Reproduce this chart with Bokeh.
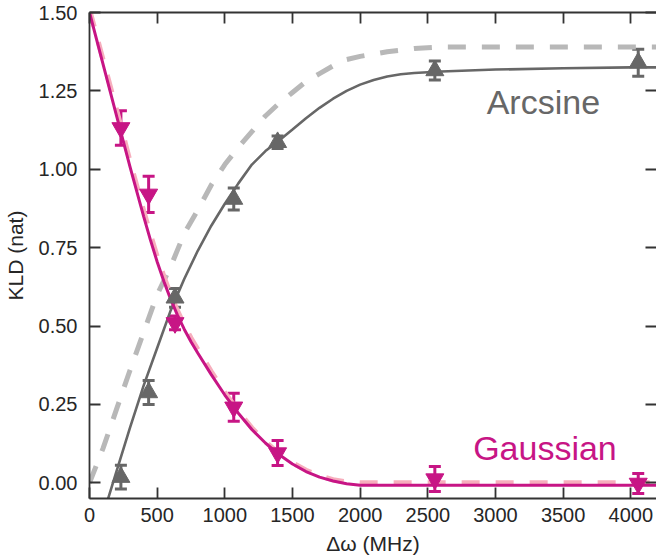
import numpy as np
from bokeh.plotting import figure
from bokeh.models import (ColumnDataSource, Whisker, TeeHead, LinearAxis, Range1d,
                          FixedTicker, NumeralTickFormatter, Label)
from bokeh.embed import file_html
from bokeh.resources import INLINE

# ---- data ----
x_pts = [232, 437, 632, 1066, 1390, 2552, 4055]
arcsine_y = [0.018, 0.288, 0.59, 0.905, 1.086, 1.315, 1.34]
arcsine_err = [0.038, 0.038, 0.03, 0.035, 0.02, 0.03, 0.043]
gauss_y = [1.132, 0.92, 0.51, 0.241, 0.095, 0.012, -0.002]
gauss_err = [0.055, 0.058, 0.022, 0.045, 0.04, 0.04, 0.032]

gauss_fit_x = [0, 100, 200, 300, 400, 450, 500, 550, 600, 650, 700, 750, 800, 900,
               1000, 1100, 1200, 1300, 1400, 1500, 1600, 1700, 1800, 1900, 2000,
               2500, 3000, 3500, 4000, 4200]
gauss_fit_y = [1.50, 1.335, 1.17, 1.007, 0.85, 0.775, 0.705, 0.642, 0.585, 0.535,
               0.49, 0.45, 0.414, 0.345, 0.28, 0.222, 0.17, 0.127, 0.09, 0.06,
               0.036, 0.018, 0.006, -0.003, -0.008, -0.008, -0.008, -0.008,
               -0.008, -0.008]

gauss_ref_x = [0, 100, 200, 300, 400, 450, 500, 550, 600, 650, 700, 750, 800, 900,
               1000, 1100, 1200, 1300, 1400, 1500, 1600, 1700, 1800, 1900, 2000,
               2500, 3000, 3500, 4000, 4200]
gauss_ref_y = [1.51, 1.35, 1.19, 1.025, 0.868, 0.793, 0.722, 0.658, 0.6, 0.549,
               0.503, 0.462, 0.426, 0.355, 0.288, 0.228, 0.175, 0.131, 0.094, 0.064,
               0.04, 0.022, 0.01, 0.003, 0.0, 0.0, 0.0, 0.0, 0.0, 0.0]

arc_fit_x = [120, 200, 300, 400, 500, 600, 700, 800, 900, 1000, 1100, 1200, 1300,
             1390, 1500, 1600, 1700, 1800, 1900, 2000, 2100, 2200, 2300, 2400, 2600,
             3000, 3500, 4000, 4200]
arc_fit_y = [-0.075, 0.037, 0.177, 0.31, 0.43, 0.55, 0.65, 0.74, 0.82, 0.89, 0.955,
             1.015, 1.058, 1.088, 1.127, 1.163, 1.196, 1.225, 1.25, 1.27, 1.285,
             1.296, 1.303, 1.307, 1.312, 1.318, 1.322, 1.325, 1.325]

arc_ref_x = [0, 100, 200, 300, 400, 500, 600, 700, 800, 900, 1000, 1100, 1200, 1300,
             1400, 1500, 1600, 1700, 1800, 1900, 2000, 2200, 2400, 2600, 3000, 3500,
             4000, 4200]
arc_ref_y = [0.0, 0.11, 0.235, 0.36, 0.48, 0.60, 0.69, 0.795, 0.87, 0.95, 1.015,
             1.07, 1.12, 1.17, 1.21, 1.245, 1.28, 1.305, 1.33, 1.35, 1.36, 1.375,
             1.385, 1.39, 1.39, 1.39, 1.39, 1.39]

y_ticks = [0.0, 0.25, 0.5, 0.75, 1.0, 1.25, 1.5]
x_ticks = [0, 500, 1000, 1500, 2000, 2500, 3000, 3500, 4000]

MAGENTA = "#c71585"
GRAY = "#676767"
PINK = "#f7aebd"
LGRAY = "#b8b8b8"
AX = "#333333"
FONT = "Liberation Sans"

p = figure(width=656, height=560, output_backend="svg", toolbar_location=None,
           x_range=Range1d(0, 4190), y_range=Range1d(-0.05, 1.5),
           min_border_left=88, min_border_right=0, min_border_top=12, min_border_bottom=62,
           outline_line_color=None)
p.grid.visible = False
p.background_fill_color = "white"

# curves
p.line(arc_ref_x, arc_ref_y, line_color=LGRAY, line_width=5, line_dash="18 16")
p.line(gauss_ref_x, gauss_ref_y, line_color=PINK, line_width=5, line_dash="18 16")
p.line(arc_fit_x, arc_fit_y, line_color=GRAY, line_width=2.6)
p.line(gauss_fit_x, gauss_fit_y, line_color=MAGENTA, line_width=3)

# error bars
def add_err(xs, ys, es, color):
    src = ColumnDataSource(dict(x=xs, upper=[y + e for y, e in zip(ys, es)],
                                lower=[y - e for y, e in zip(ys, es)]))
    w = Whisker(base="x", upper="upper", lower="lower", source=src,
                line_color=color, line_width=3,
                upper_head=TeeHead(size=12, line_color=color, line_width=3),
                lower_head=TeeHead(size=12, line_color=color, line_width=3))
    p.add_layout(w)

add_err(x_pts, arcsine_y, arcsine_err, GRAY)
add_err(x_pts, gauss_y, gauss_err, MAGENTA)

p.scatter(x_pts, arcsine_y, marker="triangle", size=18, fill_color=GRAY, line_color=GRAY)
p.scatter(x_pts, gauss_y, marker="inverted_triangle", size=18, fill_color=MAGENTA, line_color=MAGENTA)

p.add_layout(Label(x=2935, y=1.214, text="Arcsine", text_color=GRAY, text_font=FONT,
                   text_font_size="34px", text_baseline="alphabetic"))
p.add_layout(Label(x=2835, y=0.111, text="Gaussian", text_color=MAGENTA, text_font=FONT,
                   text_font_size="34px", text_baseline="alphabetic"))

# axes styling
def style_axis(ax, show_labels=True):
    ax.axis_line_color = AX
    ax.axis_line_width = 1.8
    ax.major_tick_line_color = AX
    ax.major_tick_line_width = 1.8
    ax.major_tick_in = 11
    ax.major_tick_out = 0
    ax.minor_tick_line_color = None
    ax.major_label_text_font = FONT
    ax.axis_label_text_font = FONT
    ax.axis_label_text_color = "#262626"
    ax.axis_label_text_font_style = "normal"
    ax.axis_label_text_font_size = "21px"
    if show_labels:
        ax.major_label_text_font_size = "20px"
        ax.major_label_text_color = "#262626"
    else:
        ax.major_label_text_font_size = "1px"
        ax.major_label_text_color = None
        ax.major_label_standoff = 0

xa = p.xaxis[0]
xa.ticker = FixedTicker(ticks=x_ticks)
style_axis(xa)
xa.major_label_standoff = 9
xa.axis_label = "Δω (MHz)"
xa.axis_label_standoff = 7

ya = p.yaxis[0]
ya.ticker = FixedTicker(ticks=y_ticks)
ya.formatter = NumeralTickFormatter(format="0.00")
style_axis(ya)
ya.major_label_standoff = 12
ya.axis_label = "KLD (nat)"
ya.axis_label_standoff = 9

top = LinearAxis(ticker=FixedTicker(ticks=x_ticks))
style_axis(top, show_labels=False)
p.add_layout(top, "above")

right = LinearAxis(ticker=FixedTicker(ticks=y_ticks))
style_axis(right, show_labels=False)
right.axis_line_color = None
p.add_layout(right, "right")

open("out.html", "w").write(file_html(p, INLINE))
